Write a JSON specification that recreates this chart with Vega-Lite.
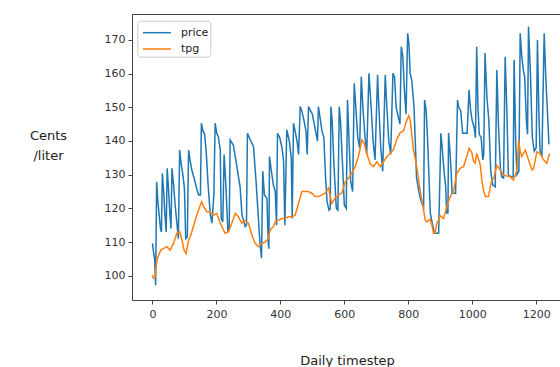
{
"$schema": "https://vega.github.io/schema/vega-lite/v6.json",
"width": 428, "height": 286,
"autosize": {"type": "none"},
"padding": {"left": 132, "top": 14, "right": 0, "bottom": 67},
"background": "white",
"config": {"view": {"stroke": null}, "font": "DejaVu Sans",
  "axis": {"grid": false, "domainColor": "#444", "tickColor": "#444", "labelColor": "#333", "labelFont": "DejaVu Sans", "labelFontSize": 11, "tickSize": 4, "titleFont": "DejaVu Sans", "titleFontWeight": "normal", "titleFontSize": 13, "titleColor": "#222"}},
"data": {"values": [
{"t":0,"v":109.6,"s":"price"},{"t":4,"v":106.6,"s":"price"},{"t":7,"v":104.7,"s":"price"},{"t":10,"v":97.2,"s":"price"},{"t":13,"v":127.9,"s":"price"},{"t":17,"v":122,"s":"price"},{"t":21,"v":118,"s":"price"},{"t":25,"v":114,"s":"price"},{"t":28,"v":113,"s":"price"},{"t":31,"v":130.4,"s":"price"},{"t":35,"v":125,"s":"price"},{"t":39,"v":118,"s":"price"},{"t":43,"v":113,"s":"price"},{"t":46,"v":131.9,"s":"price"},{"t":50,"v":126,"s":"price"},{"t":54,"v":119,"s":"price"},{"t":58,"v":114,"s":"price"},{"t":61,"v":131.9,"s":"price"},{"t":66,"v":127,"s":"price"},{"t":71,"v":121,"s":"price"},{"t":76,"v":116,"s":"price"},{"t":81,"v":111,"s":"price"},{"t":85,"v":137.3,"s":"price"},{"t":90,"v":133,"s":"price"},{"t":95,"v":130,"s":"price"},{"t":100,"v":126,"s":"price"},{"t":104,"v":111,"s":"price"},{"t":109,"v":111.5,"s":"price"},{"t":113,"v":137.3,"s":"price"},{"t":118,"v":134,"s":"price"},{"t":124,"v":131,"s":"price"},{"t":130,"v":129,"s":"price"},{"t":138,"v":126,"s":"price"},{"t":144,"v":124,"s":"price"},{"t":150,"v":124,"s":"price"},{"t":153,"v":145.3,"s":"price"},{"t":158,"v":143,"s":"price"},{"t":163,"v":142,"s":"price"},{"t":168,"v":137,"s":"price"},{"t":174,"v":127,"s":"price"},{"t":181,"v":118,"s":"price"},{"t":186,"v":115.6,"s":"price"},{"t":192,"v":124,"s":"price"},{"t":196,"v":145.3,"s":"price"},{"t":201,"v":142.3,"s":"price"},{"t":206,"v":141.3,"s":"price"},{"t":212,"v":137.3,"s":"price"},{"t":215,"v":117,"s":"price"},{"t":220,"v":116,"s":"price"},{"t":224,"v":136,"s":"price"},{"t":230,"v":126,"s":"price"},{"t":236,"v":113,"s":"price"},{"t":240,"v":114,"s":"price"},{"t":243,"v":140.3,"s":"price"},{"t":253,"v":138.8,"s":"price"},{"t":264,"v":132.4,"s":"price"},{"t":274,"v":126.4,"s":"price"},{"t":280,"v":118,"s":"price"},{"t":290,"v":114.6,"s":"price"},{"t":294,"v":115,"s":"price"},{"t":297,"v":142.3,"s":"price"},{"t":306,"v":140.3,"s":"price"},{"t":316,"v":138.3,"s":"price"},{"t":324,"v":128,"s":"price"},{"t":330,"v":119,"s":"price"},{"t":336,"v":110,"s":"price"},{"t":341,"v":105.2,"s":"price"},{"t":345,"v":131,"s":"price"},{"t":350,"v":124,"s":"price"},{"t":358,"v":123,"s":"price"},{"t":362,"v":110,"s":"price"},{"t":364,"v":108,"s":"price"},{"t":366,"v":135.4,"s":"price"},{"t":372,"v":131,"s":"price"},{"t":378,"v":127,"s":"price"},{"t":384,"v":125,"s":"price"},{"t":388,"v":115,"s":"price"},{"t":391,"v":142.3,"s":"price"},{"t":398,"v":141,"s":"price"},{"t":405,"v":138,"s":"price"},{"t":410,"v":134,"s":"price"},{"t":414,"v":115,"s":"price"},{"t":420,"v":143.3,"s":"price"},{"t":428,"v":140,"s":"price"},{"t":434,"v":135,"s":"price"},{"t":437,"v":117,"s":"price"},{"t":441,"v":145.3,"s":"price"},{"t":446,"v":143,"s":"price"},{"t":452,"v":140,"s":"price"},{"t":457,"v":136,"s":"price"},{"t":462,"v":150.2,"s":"price"},{"t":467,"v":149,"s":"price"},{"t":474,"v":146,"s":"price"},{"t":480,"v":143,"s":"price"},{"t":484,"v":136,"s":"price"},{"t":488,"v":150.2,"s":"price"},{"t":494,"v":149,"s":"price"},{"t":500,"v":148,"s":"price"},{"t":506,"v":145,"s":"price"},{"t":512,"v":142,"s":"price"},{"t":516,"v":140,"s":"price"},{"t":519,"v":150.2,"s":"price"},{"t":524,"v":147,"s":"price"},{"t":530,"v":143,"s":"price"},{"t":536,"v":141,"s":"price"},{"t":541,"v":130,"s":"price"},{"t":546,"v":122,"s":"price"},{"t":552,"v":119.5,"s":"price"},{"t":556,"v":120,"s":"price"},{"t":558,"v":150.2,"s":"price"},{"t":562,"v":146,"s":"price"},{"t":568,"v":132,"s":"price"},{"t":575,"v":120,"s":"price"},{"t":580,"v":119.5,"s":"price"},{"t":584,"v":150.2,"s":"price"},{"t":588,"v":146,"s":"price"},{"t":594,"v":134,"s":"price"},{"t":600,"v":121,"s":"price"},{"t":606,"v":120,"s":"price"},{"t":610,"v":152.2,"s":"price"},{"t":614,"v":142,"s":"price"},{"t":620,"v":128,"s":"price"},{"t":626,"v":125,"s":"price"},{"t":631,"v":157.1,"s":"price"},{"t":636,"v":150,"s":"price"},{"t":642,"v":141,"s":"price"},{"t":648,"v":138,"s":"price"},{"t":653,"v":159.1,"s":"price"},{"t":658,"v":150,"s":"price"},{"t":664,"v":142,"s":"price"},{"t":670,"v":136,"s":"price"},{"t":677,"v":160.1,"s":"price"},{"t":684,"v":150,"s":"price"},{"t":690,"v":140,"s":"price"},{"t":696,"v":134.4,"s":"price"},{"t":704,"v":159.6,"s":"price"},{"t":708,"v":150,"s":"price"},{"t":714,"v":138,"s":"price"},{"t":720,"v":131,"s":"price"},{"t":728,"v":159.6,"s":"price"},{"t":733,"v":150,"s":"price"},{"t":739,"v":140,"s":"price"},{"t":745,"v":136,"s":"price"},{"t":752,"v":160.1,"s":"price"},{"t":757,"v":159,"s":"price"},{"t":762,"v":150,"s":"price"},{"t":769,"v":147,"s":"price"},{"t":774,"v":145,"s":"price"},{"t":778,"v":168,"s":"price"},{"t":783,"v":165,"s":"price"},{"t":788,"v":155,"s":"price"},{"t":793,"v":148,"s":"price"},{"t":798,"v":172,"s":"price"},{"t":802,"v":169,"s":"price"},{"t":806,"v":160,"s":"price"},{"t":811,"v":158,"s":"price"},{"t":818,"v":150,"s":"price"},{"t":826,"v":129,"s":"price"},{"t":835,"v":124,"s":"price"},{"t":842,"v":121.5,"s":"price"},{"t":848,"v":120.5,"s":"price"},{"t":851,"v":152.2,"s":"price"},{"t":856,"v":149,"s":"price"},{"t":861,"v":139,"s":"price"},{"t":866,"v":126,"s":"price"},{"t":869,"v":118.5,"s":"price"},{"t":875,"v":115.6,"s":"price"},{"t":882,"v":112.6,"s":"price"},{"t":895,"v":112.6,"s":"price"},{"t":902,"v":142.3,"s":"price"},{"t":906,"v":138,"s":"price"},{"t":912,"v":131,"s":"price"},{"t":917,"v":126.4,"s":"price"},{"t":920,"v":118.6,"s":"price"},{"t":924,"v":118.6,"s":"price"},{"t":926,"v":142.4,"s":"price"},{"t":931,"v":136,"s":"price"},{"t":934,"v":131,"s":"price"},{"t":937,"v":124.5,"s":"price"},{"t":948,"v":124.5,"s":"price"},{"t":954,"v":152.2,"s":"price"},{"t":958,"v":150,"s":"price"},{"t":964,"v":149,"s":"price"},{"t":970,"v":142.3,"s":"price"},{"t":984,"v":142.3,"s":"price"},{"t":990,"v":155.2,"s":"price"},{"t":995,"v":149,"s":"price"},{"t":1000,"v":146,"s":"price"},{"t":1006,"v":144,"s":"price"},{"t":1010,"v":141,"s":"price"},{"t":1014,"v":168,"s":"price"},{"t":1018,"v":150,"s":"price"},{"t":1022,"v":142,"s":"price"},{"t":1028,"v":141,"s":"price"},{"t":1033,"v":134.4,"s":"price"},{"t":1036,"v":136,"s":"price"},{"t":1040,"v":166.1,"s":"price"},{"t":1046,"v":153,"s":"price"},{"t":1052,"v":146,"s":"price"},{"t":1058,"v":131,"s":"price"},{"t":1064,"v":127,"s":"price"},{"t":1072,"v":126.4,"s":"price"},{"t":1077,"v":161.1,"s":"price"},{"t":1082,"v":145,"s":"price"},{"t":1088,"v":132,"s":"price"},{"t":1092,"v":129.4,"s":"price"},{"t":1098,"v":129,"s":"price"},{"t":1103,"v":165,"s":"price"},{"t":1108,"v":150,"s":"price"},{"t":1113,"v":130,"s":"price"},{"t":1120,"v":129.4,"s":"price"},{"t":1128,"v":129.4,"s":"price"},{"t":1131,"v":164.1,"s":"price"},{"t":1136,"v":139,"s":"price"},{"t":1140,"v":130,"s":"price"},{"t":1146,"v":131,"s":"price"},{"t":1150,"v":172,"s":"price"},{"t":1155,"v":165,"s":"price"},{"t":1160,"v":161,"s":"price"},{"t":1164,"v":159,"s":"price"},{"t":1170,"v":145,"s":"price"},{"t":1173,"v":142,"s":"price"},{"t":1176,"v":174,"s":"price"},{"t":1182,"v":160,"s":"price"},{"t":1188,"v":141,"s":"price"},{"t":1194,"v":137,"s":"price"},{"t":1200,"v":138,"s":"price"},{"t":1204,"v":170,"s":"price"},{"t":1208,"v":150,"s":"price"},{"t":1212,"v":137,"s":"price"},{"t":1218,"v":136,"s":"price"},{"t":1225,"v":172,"s":"price"},{"t":1230,"v":159,"s":"price"},{"t":1235,"v":149,"s":"price"},{"t":1240,"v":139,"s":"price"},
{"t":0,"v":100.2,"s":"tpg"},{"t":3,"v":99.2,"s":"tpg"},{"t":8,"v":99.5,"s":"tpg"},{"t":14,"v":104.7,"s":"tpg"},{"t":19,"v":106,"s":"tpg"},{"t":26,"v":107.6,"s":"tpg"},{"t":35,"v":108.1,"s":"tpg"},{"t":45,"v":108.6,"s":"tpg"},{"t":55,"v":107.6,"s":"tpg"},{"t":66,"v":109.6,"s":"tpg"},{"t":76,"v":112.6,"s":"tpg"},{"t":85,"v":113.1,"s":"tpg"},{"t":92,"v":110.6,"s":"tpg"},{"t":99,"v":107.6,"s":"tpg"},{"t":105,"v":106.6,"s":"tpg"},{"t":113,"v":110.6,"s":"tpg"},{"t":118,"v":111.5,"s":"tpg"},{"t":128,"v":114.6,"s":"tpg"},{"t":137,"v":117.5,"s":"tpg"},{"t":144,"v":119.5,"s":"tpg"},{"t":154,"v":122,"s":"tpg"},{"t":160,"v":120.5,"s":"tpg"},{"t":170,"v":119,"s":"tpg"},{"t":180,"v":119,"s":"tpg"},{"t":191,"v":118,"s":"tpg"},{"t":201,"v":118.5,"s":"tpg"},{"t":212,"v":115.6,"s":"tpg"},{"t":227,"v":112.6,"s":"tpg"},{"t":238,"v":113.1,"s":"tpg"},{"t":248,"v":115.6,"s":"tpg"},{"t":259,"v":118.5,"s":"tpg"},{"t":269,"v":117.5,"s":"tpg"},{"t":279,"v":115.6,"s":"tpg"},{"t":290,"v":116.4,"s":"tpg"},{"t":300,"v":115.6,"s":"tpg"},{"t":311,"v":112.1,"s":"tpg"},{"t":321,"v":109.6,"s":"tpg"},{"t":332,"v":108.6,"s":"tpg"},{"t":342,"v":109.6,"s":"tpg"},{"t":352,"v":110,"s":"tpg"},{"t":362,"v":111,"s":"tpg"},{"t":368,"v":113.6,"s":"tpg"},{"t":378,"v":114.5,"s":"tpg"},{"t":384,"v":116,"s":"tpg"},{"t":394,"v":116.5,"s":"tpg"},{"t":405,"v":117,"s":"tpg"},{"t":415,"v":117,"s":"tpg"},{"t":425,"v":117.5,"s":"tpg"},{"t":436,"v":117.5,"s":"tpg"},{"t":446,"v":118,"s":"tpg"},{"t":457,"v":121.5,"s":"tpg"},{"t":467,"v":125,"s":"tpg"},{"t":478,"v":125,"s":"tpg"},{"t":488,"v":125,"s":"tpg"},{"t":498,"v":124.5,"s":"tpg"},{"t":509,"v":123.5,"s":"tpg"},{"t":519,"v":123.5,"s":"tpg"},{"t":530,"v":124,"s":"tpg"},{"t":540,"v":124.5,"s":"tpg"},{"t":551,"v":126,"s":"tpg"},{"t":556,"v":123.5,"s":"tpg"},{"t":561,"v":121.5,"s":"tpg"},{"t":571,"v":123,"s":"tpg"},{"t":582,"v":124,"s":"tpg"},{"t":592,"v":124.5,"s":"tpg"},{"t":603,"v":127.9,"s":"tpg"},{"t":613,"v":128.9,"s":"tpg"},{"t":623,"v":130.4,"s":"tpg"},{"t":634,"v":132.4,"s":"tpg"},{"t":644,"v":135.4,"s":"tpg"},{"t":655,"v":140.3,"s":"tpg"},{"t":662,"v":139.3,"s":"tpg"},{"t":670,"v":136.3,"s":"tpg"},{"t":681,"v":133.2,"s":"tpg"},{"t":691,"v":132.4,"s":"tpg"},{"t":702,"v":133.8,"s":"tpg"},{"t":712,"v":132.4,"s":"tpg"},{"t":723,"v":133.9,"s":"tpg"},{"t":733,"v":135.3,"s":"tpg"},{"t":743,"v":136.3,"s":"tpg"},{"t":754,"v":137.5,"s":"tpg"},{"t":764,"v":140.5,"s":"tpg"},{"t":775,"v":142.5,"s":"tpg"},{"t":785,"v":143,"s":"tpg"},{"t":795,"v":146,"s":"tpg"},{"t":801,"v":147.5,"s":"tpg"},{"t":806,"v":146.2,"s":"tpg"},{"t":816,"v":137.5,"s":"tpg"},{"t":827,"v":132,"s":"tpg"},{"t":837,"v":125.4,"s":"tpg"},{"t":848,"v":119.5,"s":"tpg"},{"t":853,"v":116.5,"s":"tpg"},{"t":858,"v":116,"s":"tpg"},{"t":868,"v":116.8,"s":"tpg"},{"t":874,"v":115,"s":"tpg"},{"t":879,"v":112.6,"s":"tpg"},{"t":884,"v":112.8,"s":"tpg"},{"t":889,"v":115.6,"s":"tpg"},{"t":895,"v":116.5,"s":"tpg"},{"t":900,"v":117.8,"s":"tpg"},{"t":910,"v":117,"s":"tpg"},{"t":921,"v":120.5,"s":"tpg"},{"t":931,"v":123.5,"s":"tpg"},{"t":941,"v":125,"s":"tpg"},{"t":952,"v":130.4,"s":"tpg"},{"t":962,"v":131.9,"s":"tpg"},{"t":973,"v":132.4,"s":"tpg"},{"t":983,"v":135.4,"s":"tpg"},{"t":990,"v":137.8,"s":"tpg"},{"t":999,"v":136.5,"s":"tpg"},{"t":1004,"v":134,"s":"tpg"},{"t":1009,"v":133.4,"s":"tpg"},{"t":1014,"v":136.3,"s":"tpg"},{"t":1020,"v":134.5,"s":"tpg"},{"t":1025,"v":133,"s":"tpg"},{"t":1030,"v":128.4,"s":"tpg"},{"t":1035,"v":125.4,"s":"tpg"},{"t":1041,"v":123.5,"s":"tpg"},{"t":1051,"v":123.5,"s":"tpg"},{"t":1056,"v":126,"s":"tpg"},{"t":1061,"v":128.4,"s":"tpg"},{"t":1067,"v":128.8,"s":"tpg"},{"t":1077,"v":132.8,"s":"tpg"},{"t":1087,"v":131.5,"s":"tpg"},{"t":1098,"v":129.9,"s":"tpg"},{"t":1108,"v":129.6,"s":"tpg"},{"t":1119,"v":129.4,"s":"tpg"},{"t":1129,"v":128.4,"s":"tpg"},{"t":1140,"v":131.4,"s":"tpg"},{"t":1145,"v":140.3,"s":"tpg"},{"t":1150,"v":137,"s":"tpg"},{"t":1155,"v":135.4,"s":"tpg"},{"t":1166,"v":137.3,"s":"tpg"},{"t":1176,"v":134.4,"s":"tpg"},{"t":1187,"v":131.4,"s":"tpg"},{"t":1192,"v":131.8,"s":"tpg"},{"t":1202,"v":136.8,"s":"tpg"},{"t":1212,"v":136.3,"s":"tpg"},{"t":1223,"v":134.4,"s":"tpg"},{"t":1233,"v":133.4,"s":"tpg"},{"t":1242,"v":136.3,"s":"tpg"}
]},
"layer": [
 {"transform": [{"filter": "datum.s === 'price'"}],
  "mark": {"type": "line", "strokeWidth": 1.5, "clip": true},
  "encoding": {
   "x": {"field": "t", "type": "quantitative", "scale": {"domain": [-64, 1274.5], "nice": false, "zero": false},
     "axis": {"values": [0,200,400,600,800,1000,1200], "format": "d", "labelPadding": 4, "title": "Daily timestep", "titleX": 215, "titleY": 64, "titleBaseline": "alphabetic", "titleAnchor": null}},
   "y": {"field": "v", "type": "quantitative", "scale": {"domain": [92.8, 177.7], "nice": false, "zero": false},
     "axis": {"values": [100,110,120,130,140,150,160,170], "labelPadding": 3, "title": ["Cents", "/liter"], "titleAngle": 0, "titleX": -84, "titleY": 115, "titleAlign": "center", "titleBaseline": "top", "titleLineHeight": 20, "titleAnchor": null}},
   "color": {"field": "s", "type": "nominal", "scale": {"domain": ["price", "tpg"], "range": ["#1f77b4", "#ff7f0e"]},
     "legend": {"orient": "none", "legendX": 5.3, "legendY": 6.7, "title": null, "symbolType": "M-1.556,0H1.556", "symbolStrokeWidth": 1.5, "symbolSize": 324, "symbolOffset": 7.6, "labelFontSize": 11, "labelFont": "DejaVu Sans", "labelColor": "#222", "strokeColor": "#cccccc", "fillColor": "white", "padding": 2, "cornerRadius": 3, "rowPadding": 1.3, "labelOffset": 14}}
  }},
 {"transform": [{"filter": "datum.s === 'tpg'"}],
  "mark": {"type": "line", "strokeWidth": 1.5, "clip": true},
  "encoding": {
   "x": {"field": "t", "type": "quantitative", "axis": {"orient": "top", "labels": false, "ticks": false, "title": null}},
   "y": {"field": "v", "type": "quantitative"},
   "color": {"field": "s", "type": "nominal"}
  }}
],
"resolve": {"axis": {"x": "independent"}}
}
